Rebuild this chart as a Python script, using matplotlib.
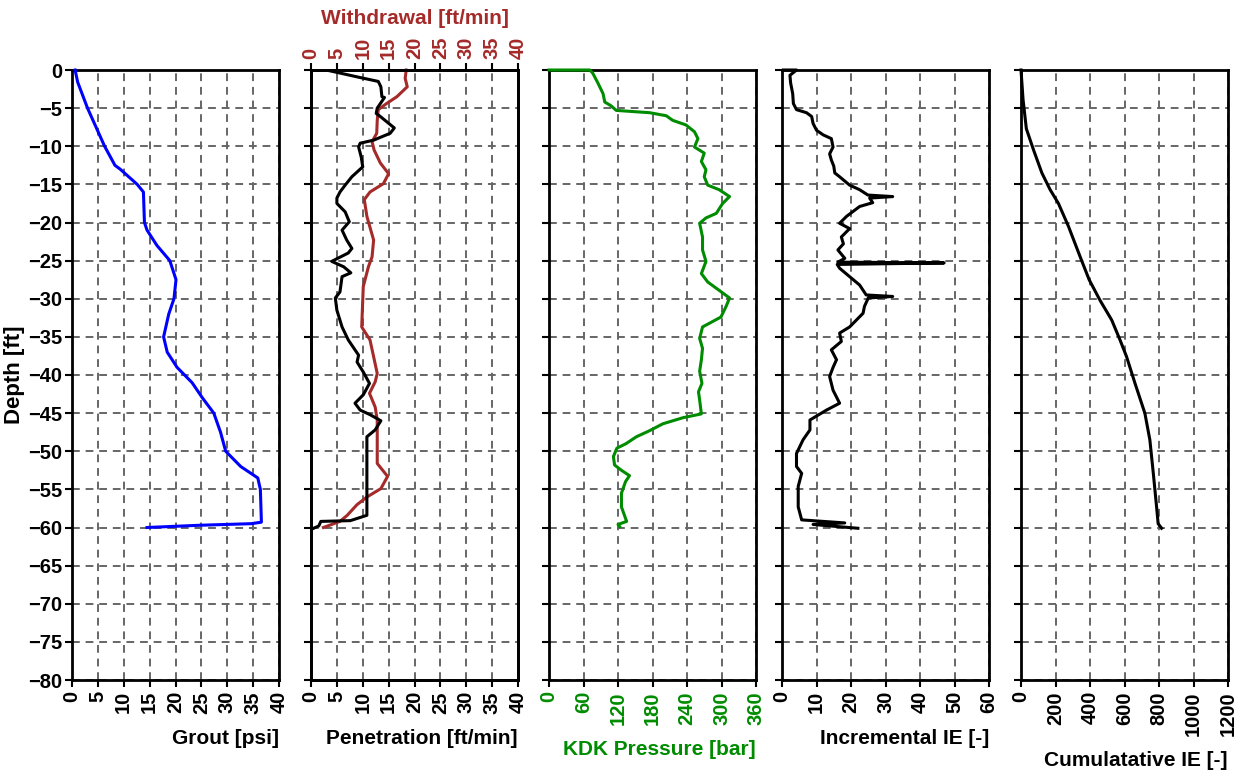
import matplotlib
matplotlib.use("Agg")
import matplotlib.pyplot as plt
from matplotlib import font_manager
import numpy as np

# ── data (depth in ft, negative downward) ───────────────────────────────────

grout_depth = [0, -1.6, -5, -10, -12.5, -13, -15, -16, -20, -21, -23, -25, -27.5, -30,
               -32, -35, -37, -39, -41, -43, -45, -47.5, -50, -52, -53.5, -55, -59.3,
               -59.5, -59.7, -60]
grout_psi = [0.6, 1.1, 3.0, 6.3, 8.3, 9.3, 12.6, 13.8, 14.0, 14.5, 16.4, 18.9, 20.1, 19.7,
             18.7, 17.7, 18.4, 20.3, 23.2, 25.2, 27.4, 28.7, 29.7, 32.6, 35.9, 36.4, 36.6,
             34.6, 24.9, 14.5]

pen_depth = [-0.1, -0.9, -1.5, -2.2, -3.5, -3.6, -5.0, -5.7, -6.1, -7.6, -8.3, -9.2, -9.6,
             -10.1, -11.4, -12.7, -14.0, -15.1, -16.0, -16.8, -17.5, -18.6, -19.9, -21.0,
             -22.3, -23.4, -24.0, -25.1, -25.8, -26.6, -27.1, -29.1, -29.9, -31.5, -33.7,
             -35.4, -36.7, -37.4, -38.3, -39.6, -41.1, -42.6, -43.7, -44.6, -45.2, -46.0,
             -47.2, -48.1, -58.4, -59.1, -59.2, -59.8, -60.1]
pen_rate = [3.6, 8.9, 13.0, 13.5, 13.7, 14.2, 12.8, 12.6, 13.4, 16.1, 15.3, 12.1, 9.5,
            9.2, 9.7, 10.0, 7.9, 6.6, 5.6, 5.0, 5.0, 6.6, 7.4, 6.0, 6.9, 7.9, 7.2, 4.0,
            6.3, 7.7, 6.0, 5.6, 4.7, 5.0, 6.0, 7.2, 8.5, 9.2, 8.9, 10.1, 11.3, 10.1, 8.5,
            9.5, 11.4, 13.5, 12.4, 10.8, 10.8, 7.6, 1.9, 1.5, 0.5]

wd_depth = [0, -1.1, -2.2, -3.5, -4.4, -5.2, -6.6, -8.3, -9.4, -10.5, -12.2, -13.6, -14.9,
            -16.0, -17.0, -19.2, -22.3, -24.5, -25.8, -28.4, -33.7, -35.4, -39.8, -40.9,
            -42.4, -44.2, -45.9, -51.6, -53.3, -54.9, -56.0, -57.0, -58.4, -59.2, -60.0]
wd_rate = [18.4, 18.2, 18.6, 16.6, 14.6, 13.0, 12.8, 12.7, 11.8, 12.2, 13.4, 15.0, 14.0,
           11.4, 10.3, 10.8, 12.1, 11.8, 11.1, 10.1, 9.8, 11.4, 12.8, 12.4, 11.3, 12.4,
           12.8, 12.8, 14.8, 13.5, 10.8, 8.9, 7.0, 5.6, 2.4]

kdk_depth = [0, 0, -0.4, -1.7, -3.1, -4.2, -4.7, -5.3, -5.6, -6.0, -6.6, -7.2, -8.1, -9.0,
             -10.1, -10.9, -12.0, -13.1, -14.0, -15.1, -15.7, -16.6, -17.5, -18.8, -19.4,
             -20.1, -21.9, -23.6, -25.1, -26.7, -27.8, -28.9, -29.9, -31.0, -32.4, -33.7,
             -34.3, -35.2, -36.5, -38.0, -39.5, -41.1, -42.2, -43.3, -45.1, -45.6, -46.4,
             -47.3, -48.1, -49.0, -49.6, -50.7, -51.8, -52.5, -53.2, -54.0, -55.5, -57.3,
             -59.2, -59.6, -59.9]
kdk_bar = [0, 71, 76, 85, 94, 97, 108, 117, 175, 204, 215, 238, 253, 259, 253, 270, 265,
           273, 270, 276, 296, 314, 302, 291, 273, 262, 267, 267, 273, 265, 276, 296, 314,
           308, 299, 267, 265, 262, 267, 265, 262, 266, 260, 262, 265, 233, 198, 175, 152,
           134, 118, 112, 114, 126, 140, 133, 126, 126, 135, 120, 123]

inc_depth = [0, 0, -0.7, -1.7, -3.1, -4.4, -5.2, -5.6, -6.1, -7.0, -7.9, -8.5, -9.0, -10.1,
             -11.0, -11.8, -12.6, -13.5, -14.0, -15.1, -15.7, -16.4, -16.6, -16.8, -17.4,
             -17.9, -19.2, -20.1, -20.8, -21.9, -22.8, -23.6, -24.7, -25.2, -25.3, -25.5,
             -26.0, -27.1, -28.2, -29.5, -29.7, -29.9, -31.0, -31.9, -33.7, -34.5, -35.6,
             -36.7, -38.0, -39.0, -40.2, -42.0, -43.7, -44.6, -45.9, -47.2, -48.5, -50.3,
             -52.0, -52.9, -54.6, -57.3, -59.0, -59.4, -59.6, -59.7, -60.1]
inc_ie = [0.4, 4.2, 2.3, 2.5, 3.1, 3.3, 4.2, 7.1, 8.6, 9.0, 10.0, 11.9, 14.3, 14.8, 13.8,
          14.3, 15.0, 15.3, 16.7, 19.6, 22.5, 24.9, 32.1, 25.4, 26.3, 22.5, 18.7, 16.7,
          19.6, 17.2, 17.8, 16.2, 18.2, 16.2, 47.0, 16.0, 16.7, 19.6, 22.5, 24.4, 32.1,
          25.0, 23.9, 23.5, 19.6, 16.7, 17.2, 14.3, 15.8, 14.8, 13.8, 14.8, 16.7, 12.9,
          8.1, 8.1, 6.1, 4.2, 4.2, 5.7, 4.7, 4.7, 5.7, 18.2, 9.0, 11.5, 22.0]

cum_depth = [0, -3.9, -7.7, -10.5, -13.5, -15.7, -17.5, -20.5, -24.5, -27.5, -30.2, -32.8,
             -35.4, -37.6, -41.1, -45.0, -48.5, -52.9, -57.3, -59.5, -60.1]
cum_ie = [0, 12, 31, 73, 121, 169, 217, 275, 343, 395, 458, 526, 574, 612, 661, 718, 747,
          767, 786, 795, 815]

# ── style ───────────────────────────────────────────────────────────────────

names = {f.name for f in font_manager.fontManager.ttflist}
FONT = "Liberation Sans Narrow" if "Liberation Sans Narrow" in names else "Liberation Sans"
plt.rcParams["font.family"] = [FONT, "DejaVu Sans"]
plt.rcParams["font.weight"] = "bold"
plt.rcParams["axes.labelweight"] = "bold"

RED = "#A52A2A"
GREEN = "#008C00"
GRID = dict(color="#666666", linestyle=(0, (4, 3)), linewidth=1.4)
TICK_FS = 14.5
LABEL_FS = 15
LW = 2.2

W, H = 1253, 778
fig = plt.figure(figsize=(W / 100, H / 100), dpi=100)

lefts = [72, 311, 549, 782, 1021]
axes = [fig.add_axes([l / W, 1 - 680 / H, 207 / W, 610 / H]) for l in lefts]

panels = [
    (40, 5, "Grout [psi]", "black"),
    (40, 5, "Penetration [ft/min]", "black"),
    (360, 60, "KDK Pressure [bar]", GREEN),
    (60, 10, "Incremental IE [-]", "black"),
    (1200, 200, "Cumulatative IE [-]", "black"),
]

for i, (ax, (xmax, step, label, col)) in enumerate(zip(axes, panels)):
    ax.set_xlim(0, xmax)
    ax.set_ylim(-80, 0)
    ax.set_xticks(np.arange(0, xmax + step, step))
    ax.set_yticks(np.arange(-80, 1, 5))
    ax.grid(True, **GRID)
    ax.set_axisbelow(True)
    ax.tick_params(axis="x", rotation=90, labelsize=TICK_FS, labelcolor=col,
                   length=5, width=1.5, pad=3)
    ax.tick_params(axis="y", labelsize=TICK_FS, length=5, width=1.5, pad=2,
                   labelleft=(i == 0))
    for s in ax.spines.values():
        s.set_linewidth(2)
    ax.set_xlabel(label, fontsize=LABEL_FS, color=col, loc="right", labelpad=11,
                  fontweight="bold")

axes[0].set_ylabel("Depth [ft]", fontsize=LABEL_FS + 1, labelpad=2, fontweight="bold")

line_kw = dict(linewidth=LW, zorder=3, clip_on=False)
axes[0].plot(grout_psi, grout_depth, color="#0000FF", **line_kw)
axes[1].plot(wd_rate, wd_depth, color=RED, **line_kw)
axes[1].plot(pen_rate, pen_depth, color="black", **line_kw)
axes[2].plot(kdk_bar, kdk_depth, color=GREEN, **line_kw)
axes[3].plot(inc_ie, inc_depth, color="black", **line_kw)
axes[4].plot(cum_ie, cum_depth, color="black", **line_kw)

# top axis for withdrawal
top = axes[1].twiny()
top.set_xlim(0, 40)
top.set_xticks(np.arange(0, 45, 5))
top.tick_params(axis="x", rotation=90, labelsize=TICK_FS, labelcolor=RED,
                length=5, width=1.5, pad=3)
top.set_xlabel("Withdrawal [ft/min]", fontsize=LABEL_FS, color=RED, labelpad=9,
               fontweight="bold")
for s in top.spines.values():
    s.set_linewidth(2)

fig.savefig("out.png", dpi=100)
